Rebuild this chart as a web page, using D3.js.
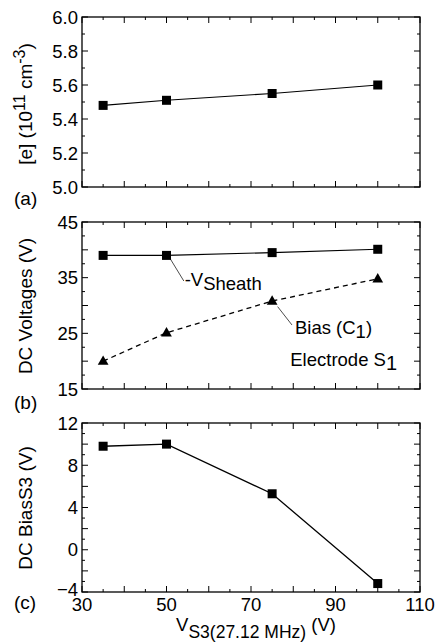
<!DOCTYPE html>
<html><head><meta charset="utf-8">
<script src="https://cdn.jsdelivr.net/npm/d3@7"></script>
<style>
html,body{margin:0;padding:0;background:#fff;}
svg{display:block;font-family:"Liberation Sans",Arial,Helvetica,sans-serif;}
</style></head>
<body>
<script>
// ---- data ----
const xVals = [35, 50, 75, 100];
const xTickLabels = [30, 50, 70, 90, 110];
const density = [5.48, 5.51, 5.55, 5.60];       // [e] (10^11 cm^-3)
const sheath = [39.0, 39.0, 39.5, 40.1];        // -V_Sheath (V)
const biasC1 = [20.0, 25.1, 30.8, 34.8];        // Bias (C1) (V)
const biasS3 = [9.8, 10.0, 5.3, -3.2];          // DC Bias S3 (V)
const yTicksA = [5.0, 5.2, 5.4, 5.6, 5.8, 6.0];
const yTicksB = [15, 25, 35, 45];
const yTicksC = [-4, 0, 4, 8, 12];

const W = 438, H = 643;
const svg = d3.select("body").append("svg").attr("width", W).attr("height", H);

const x = d3.scaleLinear().domain([30, 110]).range([82, 420]);

function range(a, b, s) { const r = []; for (let v = a; v <= b + 1e-9; v += s) r.push(+v.toFixed(6)); return r; }

const panels = [
  { top: 17, bottom: 187, domain: [5.0, 6.0], labels: yTicksA, major: 0.2, minor: 0.1, fmt: d3.format(".1f"), letter: "(a)", letterY: 205 },
  { top: 222, bottom: 389, domain: [15, 45], labels: yTicksB, major: 5, minor: 2.5, fmt: d3.format("d"), letter: "(b)", letterY: 409 },
  { top: 423, bottom: 592, domain: [-4, 12], labels: yTicksC, major: 2, minor: 1, fmt: d3.format("d"), letter: "(c)", letterY: 609 }
];

panels.forEach((p, pi) => {
  p.y = d3.scaleLinear().domain(p.domain).range([p.bottom, p.top]);
  const g = svg.append("g");
  p.g = g;
  const xMinor = range(30, 110, 5);
  const majLen = 6, minLen = 3;
  xMinor.forEach(v => {
    const len = (Math.round(v) % 10 === 0) ? majLen : minLen;
    g.append("line").attr("x1", x(v)).attr("x2", x(v)).attr("y1", p.bottom).attr("y2", p.bottom - len).attr("stroke", "#000").attr("stroke-width", 1);
    g.append("line").attr("x1", x(v)).attr("x2", x(v)).attr("y1", p.top).attr("y2", p.top + len).attr("stroke", "#000").attr("stroke-width", 1);
  });
  const yT = range(p.domain[0], p.domain[1], p.minor);
  yT.forEach(v => {
    const isMaj = Math.abs((v - p.domain[0]) / p.major - Math.round((v - p.domain[0]) / p.major)) < 1e-6;
    const len = isMaj ? majLen : minLen;
    g.append("line").attr("x1", 82).attr("x2", 82 + len).attr("y1", p.y(v)).attr("y2", p.y(v)).attr("stroke", "#000").attr("stroke-width", 1);
    g.append("line").attr("x1", 420).attr("x2", 420 - len).attr("y1", p.y(v)).attr("y2", p.y(v)).attr("stroke", "#000").attr("stroke-width", 1);
  });
  g.append("rect").attr("x", 82).attr("y", p.top).attr("width", 338).attr("height", p.bottom - p.top)
    .attr("fill", "none").attr("stroke", "#000").attr("stroke-width", 1.3);
  g.selectAll(".yl").data(p.labels).enter().append("text")
    .attr("x", 78).attr("y", (d, i) => p.y(d) + ((pi === 2 && i === 0) ? 4 : 6.5)).attr("text-anchor", "end")
    .attr("font-size", 18.5).text(d => p.fmt(d));
  g.append("text").attr("x", 14).attr("y", p.letterY).attr("font-size", 19).text(p.letter);
});

svg.selectAll(".xl").data(xTickLabels).enter().append("text")
  .attr("x", d => x(d)).attr("y", 611).attr("text-anchor", "middle").attr("font-size", 18.5).text(d => d);

function yTitle(cy, build) {
  const t = svg.append("text").attr("transform", `translate(32,${cy}) rotate(-90)`)
    .attr("text-anchor", "middle").attr("font-size", 19);
  build(t);
}
yTitle(104, t => {
  t.append("tspan").text("[e] (10");
  t.append("tspan").attr("dy", -7).attr("font-size", 16).text("11");
  t.append("tspan").attr("dy", 7).text(" cm");
  t.append("tspan").attr("dy", -7).attr("font-size", 16).text("-3");
  t.append("tspan").attr("dy", 7).text(")");
});
yTitle(306, t => t.text("DC Voltages (V)"));
yTitle(508, t => t.text("DC BiasS3 (V)"));

{
  const t = svg.append("text").attr("x", 256).attr("y", 631).attr("text-anchor", "middle").attr("font-size", 18.5);
  t.append("tspan").text("V");
  t.append("tspan").attr("dy", 7).attr("font-size", 17.5).text("S3(27.12 MHz)");
  t.append("tspan").attr("dy", -7).text(" (V)");
}

const line = (ys, ysc) => d3.line().x((d, i) => x(xVals[i])).y(d => ysc(d))(ys);
const [pa, pb, pc] = panels;

function squares(g, ys, ysc) {
  g.selectAll(null).data(ys).enter().append("rect")
    .attr("x", (d, i) => x(xVals[i]) - 4.5).attr("y", d => ysc(d) - 4.5)
    .attr("width", 9).attr("height", 9).attr("fill", "#000");
}
function triangles(g, ys, ysc) {
  g.selectAll(null).data(ys).enter().append("path")
    .attr("d", d3.symbol().type(d3.symbolTriangle).size(50))
    .attr("transform", (d, i) => `translate(${x(xVals[i])},${ysc(d) + 0.5})`).attr("fill", "#000");
}

pa.g.append("path").attr("d", line(density, pa.y)).attr("fill", "none").attr("stroke", "#000").attr("stroke-width", 1.1);
squares(pa.g, density, pa.y);

pb.g.append("path").attr("d", line(sheath, pb.y)).attr("fill", "none").attr("stroke", "#000").attr("stroke-width", 1.1);
pb.g.append("path").attr("d", line(biasC1, pb.y)).attr("fill", "none").attr("stroke", "#000").attr("stroke-width", 1.3).attr("stroke-dasharray", "5,4");
squares(pb.g, sheath, pb.y);
triangles(pb.g, biasC1, pb.y);

pc.g.append("path").attr("d", line(biasS3, pc.y)).attr("fill", "none").attr("stroke", "#000").attr("stroke-width", 1.3);
squares(pc.g, biasS3, pc.y);

pb.g.append("line").attr("x1", x(50.8)).attr("y1", pb.y(38.5)).attr("x2", x(54.1)).attr("y2", pb.y(34.4)).attr("stroke", "#000").attr("stroke-width", 0.7);
{
  const t = pb.g.append("text").attr("x", x(54.3)).attr("y", pb.y(33.5)).attr("font-size", 18.5);
  t.append("tspan").text("-V");
  t.append("tspan").attr("dy", 4).text("Sheath");
}
pb.g.append("line").attr("x1", x(76.3)).attr("y1", pb.y(29.8)).attr("x2", x(79.7)).attr("y2", pb.y(26.5)).attr("stroke", "#000").attr("stroke-width", 0.7);
{
  const t = pb.g.append("text").attr("x", x(80.4)).attr("y", pb.y(24.9)).attr("font-size", 18.5);
  t.append("tspan").text("Bias (C");
  t.append("tspan").attr("dy", 4).text("1");
  t.append("tspan").attr("dy", -4).text(")");
}
{
  const t = pb.g.append("text").attr("x", x(79.3)).attr("y", pb.y(19.2)).attr("font-size", 18.5);
  t.append("tspan").text("Electrode S");
  t.append("tspan").attr("dy", 4).attr("font-size", 20).text("1");
}
</script>
</body></html>
